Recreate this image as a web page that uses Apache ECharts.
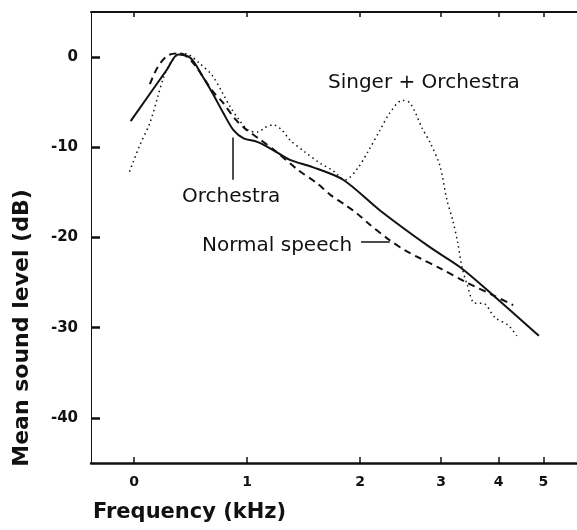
<!DOCTYPE html>
<html>
<head>
<meta charset="utf-8">
<script src="https://cdn.jsdelivr.net/npm/echarts@6/dist/echarts.min.js"></script>
<style>
  html, body { margin: 0; background: #fff; }
  #chart { width: 577px; height: 530px; }
</style>
</head>
<body>
<div id="chart"></div>
<script>
// frequency (kHz) / mean level (dB)
const orchestraFreq  = [-0.03, 0.29, 0.39, 0.50, 0.61, 0.69, 0.79, 0.88, 0.97, 1.09, 1.23, 1.38, 1.58, 1.85, 2.21, 2.84, 3.30, 3.89, 4.89]
const orchestraLevel = [-7.1, -1.4, 0.3, -0.1, -2.2, -3.9, -6.2, -8.1, -9.0, -9.4, -10.3, -11.4, -12.2, -13.6, -17.0, -21.1, -23.3, -26.4, -30.9]

const speechFreq  = [0.14, 0.21, 0.30, 0.41, 0.52, 0.69, 0.79, 0.89, 0.98, 1.10, 1.25, 1.45, 1.62, 1.74, 1.87, 1.97, 2.08, 2.32, 2.50, 2.70, 2.98, 3.38, 3.89, 4.30]
const speechLevel = [-3.0, -1.1, 0.2, 0.4, -0.6, -3.7, -5.1, -6.8, -7.9, -9.0, -10.4, -12.5, -14.0, -15.3, -16.4, -17.3, -18.4, -20.3, -21.4, -22.3, -23.4, -24.9, -26.4, -27.5]

const singerFreq  = [-0.04, 0.05, 0.14, 0.21, 0.26, 0.32, 0.41, 0.48, 0.58, 0.69, 0.78, 0.85, 0.92, 1.01, 1.10, 1.16, 1.23, 1.31, 1.38, 1.51, 1.65, 1.75, 1.87, 1.98, 2.08, 2.21, 2.32, 2.47, 2.57, 2.73, 2.84, 2.98, 3.09, 3.18, 3.26, 3.33, 3.42, 3.55, 3.70, 3.93, 4.19, 4.38]
const singerLevel = [-12.7, -9.8, -7.3, -4.4, -2.3, -0.7, 0.4, 0.3, -0.7, -2.0, -3.9, -5.5, -6.8, -8.1, -8.3, -7.8, -7.5, -8.1, -9.2, -10.5, -11.8, -12.5, -13.6, -12.3, -10.5, -8.1, -6.2, -4.8, -5.1, -7.9, -9.5, -12.0, -15.9, -18.1, -20.6, -23.3, -25.3, -27.3, -27.3, -28.9, -29.7, -30.9]

const freqTicks  = [0, 1, 2, 3, 4, 5]
const levelTicks = [0, -10, -20, -30, -40]

const INK = '#111'
const FONT = 'DejaVu Sans'

// the frequency axis is linear up to 2 kHz and logarithmic above
const LIN_END = 2
const LOG_GAIN = 1.77
function toAxis(f) {
  return f <= LIN_END ? f : LIN_END + LOG_GAIN * Math.log(f / LIN_END)
}
function fromAxis(u) {
  return u <= LIN_END ? u : LIN_END * Math.exp((u - LIN_END) / LOG_GAIN)
}

const pairs = (xs, ys) => xs.map((f, i) => [toAxis(f), ys[i]])
const tickPos = freqTicks.map(toAxis)

const chart = echarts.init(document.getElementById('chart'))

const baseX = {
  type: 'value',
  min: -0.381,
  max: 3.92,
  splitLine: { show: false },
  axisLine: { onZero: false, lineStyle: { color: INK, width: 2.5 } },
}

chart.setOption({
  animation: false,
  backgroundColor: '#fff',
  grid: { left: 91, right: 0, top: 12, bottom: 67, outerBoundsMode: 'none' },
  xAxis: [
    {
      ...baseX,
      position: 'bottom',
      axisTick: { inside: true, length: 6, customValues: tickPos, lineStyle: { color: INK, width: 1.5 } },
      axisLabel: {
        customValues: tickPos,
        margin: 12,
        color: INK,
        fontFamily: FONT,
        fontWeight: 'bold',
        fontSize: 14,
        formatter: v => String(Math.round(fromAxis(v))),
      },
    },
    {
      ...baseX,
      position: 'top',
      axisLine: { onZero: false, lineStyle: { color: INK, width: 2 } },
      axisTick: { inside: true, length: 5, customValues: tickPos, lineStyle: { color: INK, width: 1.5 } },
      axisLabel: { show: false },
    },
  ],
  yAxis: {
    type: 'value',
    min: -45,
    max: 5,
    splitLine: { show: false },
    axisLine: { show: true, onZero: false, lineStyle: { color: INK, width: 1 } },
    axisTick: { show: true, inside: true, length: 9, customValues: levelTicks, lineStyle: { color: INK, width: 2.5 } },
    axisLabel: {
      customValues: levelTicks,
      margin: 13,
      color: INK,
      fontFamily: FONT,
      fontWeight: 'bold',
      fontSize: 15,
    },
  },
  series: [
    {
      name: 'Orchestra',
      type: 'line',
      smooth: 0.3,
      showSymbol: false,
      lineStyle: { color: INK, width: 2 },
      data: pairs(orchestraFreq, orchestraLevel),
      markLine: {
        silent: true,
        symbol: 'none',
        label: { show: false },
        lineStyle: { color: INK, width: 1.5, type: 'solid' },
        data: [[{ coord: [toAxis(0.87), -8.9] }, { coord: [toAxis(0.87), -13.6] }]],
      },
    },
    {
      name: 'Normal speech',
      type: 'line',
      smooth: 0.3,
      showSymbol: false,
      lineStyle: { color: INK, width: 2, type: [7, 5] },
      data: pairs(speechFreq, speechLevel),
      markLine: {
        silent: true,
        symbol: 'none',
        label: { show: false },
        lineStyle: { color: INK, width: 1.5, type: 'solid' },
        data: [[{ coord: [toAxis(2.01), -20.5] }, { coord: [toAxis(2.32), -20.5] }]],
      },
    },
    {
      name: 'Singer + Orchestra',
      type: 'line',
      smooth: 0.3,
      showSymbol: false,
      lineStyle: { color: INK, width: 1.5, type: [1.5, 3.5] },
      data: pairs(singerFreq, singerLevel),
    },
  ],
  graphic: [
    { type: 'text', left: 328, top: 73, style: { text: 'Singer + Orchestra', font: '20px "DejaVu Sans"', fill: INK } },
    { type: 'text', left: 182, top: 187, style: { text: 'Orchestra', font: '20px "DejaVu Sans"', fill: INK } },
    { type: 'text', left: 202, top: 236, style: { text: 'Normal speech', font: '20px "DejaVu Sans"', fill: INK } },
    { type: 'text', left: 93, top: 502, style: { text: 'Frequency (kHz)', font: 'bold 21px "DejaVu Sans"', fill: INK } },
    {
      type: 'text',
      x: 22,
      y: 328,
      rotation: Math.PI / 2,
      style: { text: 'Mean sound level (dB)', font: 'bold 22px "DejaVu Sans"', fill: INK, align: 'center', verticalAlign: 'middle' },
    },
  ],
})
</script>
</body>
</html>
